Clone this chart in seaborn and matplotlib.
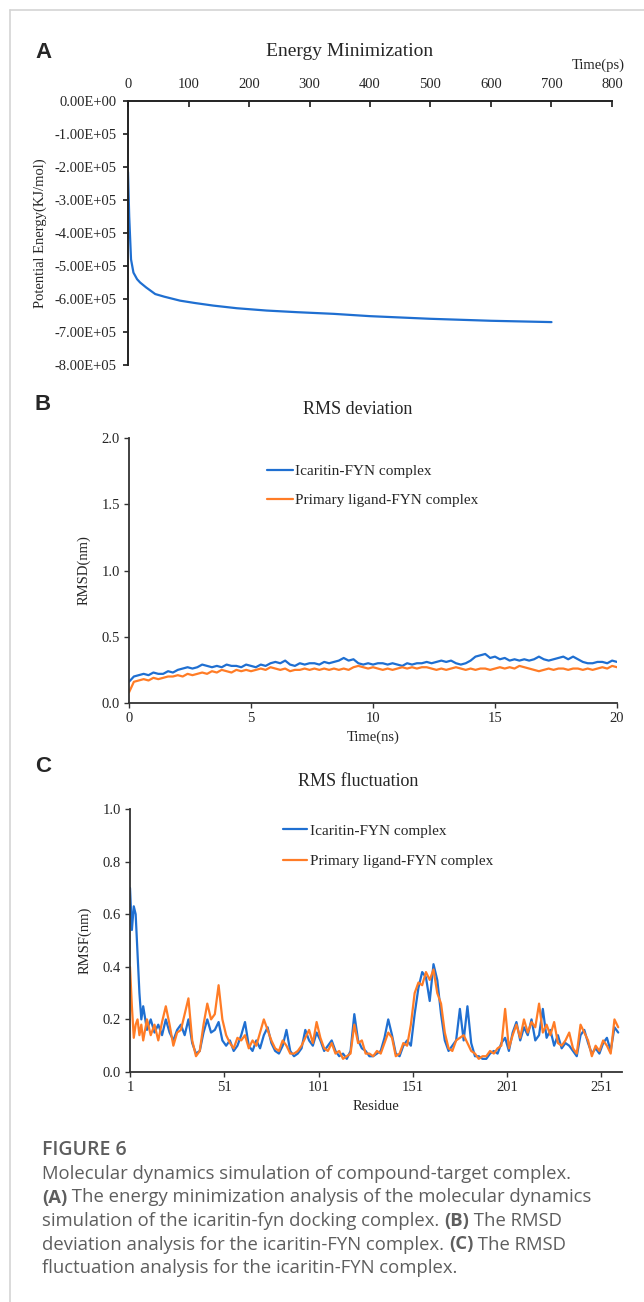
import numpy as np
import pandas as pd
import matplotlib
matplotlib.use("Agg")
import matplotlib.pyplot as plt
from matplotlib.ticker import FuncFormatter
import seaborn as sns

W, H = 644, 1302

# ---- panel A: energy minimization (ps, KJ/mol)
em_time = [0, 2, 5, 9, 15, 20, 30, 45, 60, 86, 110, 141, 180, 229,
           280, 340, 400, 450, 500, 550, 600, 650, 700]
em_energy = [-2.15e5, -3.5e5, -4.8e5, -5.2e5, -5.4e5, -5.5e5, -5.65e5,
             -5.85e5, -5.93e5, -6.05e5, -6.12e5, -6.2e5, -6.28e5, -6.35e5,
             -6.4e5, -6.45e5, -6.52e5, -6.56e5, -6.6e5, -6.63e5, -6.66e5,
             -6.68e5, -6.7e5]

# ---- panel B: RMSD (ns, nm), one value every 0.2 ns
rmsd_time = np.linspace(0, 20, 101)
rmsd_icaritin = [
    0.16, 0.20, 0.21, 0.22, 0.21, 0.23, 0.22, 0.22, 0.24, 0.23,
    0.25, 0.26, 0.27, 0.26, 0.27, 0.29, 0.28, 0.27, 0.28, 0.27,
    0.29, 0.28, 0.28, 0.27, 0.29, 0.28, 0.27, 0.29, 0.28, 0.30,
    0.31, 0.30, 0.32, 0.29, 0.28, 0.30, 0.29, 0.30, 0.30, 0.29,
    0.31, 0.30, 0.31, 0.32, 0.34, 0.32, 0.33, 0.30, 0.29, 0.30,
    0.29, 0.30, 0.30, 0.29, 0.30, 0.29, 0.28, 0.30, 0.29, 0.30,
    0.30, 0.31, 0.30, 0.31, 0.32, 0.31, 0.32, 0.30, 0.29, 0.30,
    0.32, 0.35, 0.36, 0.37, 0.34, 0.35, 0.33, 0.34, 0.32, 0.33,
    0.32, 0.33, 0.32, 0.33, 0.35, 0.33, 0.32, 0.33, 0.34, 0.35,
    0.33, 0.35, 0.33, 0.31, 0.30, 0.30, 0.31, 0.31, 0.30, 0.32,
    0.31]
rmsd_primary = [
    0.08, 0.16, 0.17, 0.18, 0.17, 0.19, 0.18, 0.19, 0.20, 0.20,
    0.21, 0.20, 0.22, 0.21, 0.22, 0.23, 0.22, 0.24, 0.23, 0.25,
    0.24, 0.23, 0.25, 0.24, 0.25, 0.24, 0.25, 0.26, 0.25, 0.27,
    0.26, 0.25, 0.26, 0.24, 0.25, 0.25, 0.26, 0.25, 0.26, 0.25,
    0.26, 0.25, 0.26, 0.25, 0.26, 0.25, 0.27, 0.28, 0.27, 0.26,
    0.27, 0.26, 0.25, 0.26, 0.25, 0.26, 0.27, 0.26, 0.27, 0.26,
    0.27, 0.27, 0.26, 0.25, 0.26, 0.25, 0.26, 0.27, 0.26, 0.25,
    0.26, 0.25, 0.26, 0.26, 0.25, 0.26, 0.27, 0.26, 0.27, 0.26,
    0.28, 0.27, 0.26, 0.25, 0.24, 0.25, 0.26, 0.25, 0.26, 0.26,
    0.25, 0.26, 0.26, 0.25, 0.26, 0.25, 0.26, 0.27, 0.26, 0.28,
    0.27]

# ---- panel C: RMSF per residue (nm)
residues = np.r_[1:9, 10:261:2]
rmsf_icaritin = [
    0.70, 0.54, 0.63, 0.60, 0.45, 0.30, 0.20, 0.25,
    0.16, 0.20, 0.15, 0.18, 0.14, 0.20, 0.15, 0.12, 0.16, 0.18,
    0.14, 0.20, 0.11, 0.07, 0.08, 0.15, 0.20, 0.15, 0.16, 0.19,
    0.12, 0.10, 0.12, 0.08, 0.10, 0.14, 0.19, 0.10, 0.08, 0.12,
    0.09, 0.14, 0.17, 0.11, 0.08, 0.07, 0.10, 0.16, 0.08, 0.06,
    0.07, 0.09, 0.16, 0.12, 0.10, 0.15, 0.12, 0.08, 0.10, 0.12,
    0.08, 0.06, 0.07, 0.05, 0.08, 0.22, 0.12, 0.09, 0.08, 0.06,
    0.06, 0.07, 0.08, 0.13, 0.20, 0.14, 0.07, 0.06, 0.10, 0.12,
    0.10, 0.22, 0.32, 0.38, 0.36, 0.27, 0.41, 0.35, 0.22, 0.12,
    0.08, 0.10, 0.12, 0.24, 0.12, 0.25, 0.11, 0.06, 0.06, 0.05,
    0.05, 0.07, 0.08, 0.07, 0.11, 0.13, 0.08, 0.15, 0.19, 0.12,
    0.17, 0.14, 0.20, 0.12, 0.14, 0.24, 0.13, 0.16, 0.10, 0.14,
    0.09, 0.11, 0.10, 0.08, 0.06, 0.14, 0.16, 0.11, 0.07, 0.09,
    0.07, 0.11, 0.13, 0.08, 0.17, 0.15]
rmsf_primary = [
    0.40, 0.25, 0.13, 0.18, 0.20, 0.14, 0.18, 0.12,
    0.20, 0.14, 0.18, 0.12, 0.19, 0.25, 0.18, 0.10, 0.15, 0.16,
    0.22, 0.28, 0.12, 0.06, 0.08, 0.18, 0.26, 0.20, 0.22, 0.33,
    0.20, 0.14, 0.11, 0.09, 0.13, 0.12, 0.14, 0.09, 0.12, 0.10,
    0.15, 0.20, 0.16, 0.12, 0.09, 0.08, 0.12, 0.10, 0.07, 0.07,
    0.08, 0.10, 0.13, 0.16, 0.11, 0.19, 0.13, 0.09, 0.08, 0.11,
    0.07, 0.08, 0.05, 0.06, 0.07, 0.18, 0.11, 0.12, 0.07, 0.07,
    0.06, 0.08, 0.07, 0.11, 0.15, 0.13, 0.06, 0.07, 0.11, 0.10,
    0.18, 0.30, 0.34, 0.33, 0.38, 0.35, 0.39, 0.30, 0.26, 0.15,
    0.09, 0.08, 0.12, 0.13, 0.14, 0.11, 0.08, 0.07, 0.05, 0.06,
    0.06, 0.08, 0.07, 0.09, 0.10, 0.24, 0.09, 0.14, 0.18, 0.13,
    0.20, 0.15, 0.19, 0.17, 0.26, 0.15, 0.18, 0.14, 0.19, 0.11,
    0.10, 0.12, 0.15, 0.09, 0.07, 0.18, 0.15, 0.12, 0.06, 0.10,
    0.08, 0.12, 0.10, 0.07, 0.20, 0.17]

series_names = ["Icaritin-FYN complex", "Primary ligand-FYN complex"]

BLUE = "#1f6fd1"
ORANGE = "#ff7c26"
SERIF = ["Liberation Serif", "DejaVu Serif"]
SANS = ["Liberation Sans", "DejaVu Sans"]
CAPTION = ["Open Sans", "DejaVu Sans"]
TXT = 10.5


def fx(px):
    return px / W


def fy(py):
    return 1 - py / H


def axes_box(left, top, right, bottom):
    return [fx(left), fy(bottom), (right - left) / W, (bottom - top) / H]


def style_axes(ax):
    for side in ["top", "right"]:
        ax.spines[side].set_visible(False)
    for side in ["left", "bottom"]:
        ax.spines[side].set_color("#333333")
        ax.spines[side].set_linewidth(1.3)
    ax.tick_params(direction="out", length=3.5, width=1.0, color="#333333",
                   labelsize=TXT, pad=3, left=True, bottom=True)


sns.set_theme(style="white")
plt.rcParams["font.family"] = SERIF

fig = plt.figure(figsize=(W / 100, H / 100), dpi=100)

# ---------------- A
ax = fig.add_axes(axes_box(128, 101, 612, 365))
sns.lineplot(x=em_time, y=em_energy, ax=ax, color=BLUE, lw=1.6)
ax.set_xlim(0, 800)
ax.set_ylim(-8e5, 0)
ax.set_xticks(range(0, 801, 100))
ax.set_yticks(np.arange(-8e5, 1, 1e5))
ax.yaxis.set_major_formatter(FuncFormatter(lambda v, p: f"{v:.2E}"))
ax.xaxis.tick_top()
ax.spines["right"].set_visible(False)
ax.spines["bottom"].set_visible(False)
for side in ["left", "top"]:
    ax.spines[side].set_color("#222222")
    ax.spines[side].set_linewidth(1.4)
ax.tick_params(axis="x", direction="in", length=4, color="#222222",
               labelsize=TXT, pad=7, top=True, bottom=False)
ax.tick_params(axis="y", direction="out", length=3.5, color="#222222",
               labelsize=TXT, pad=5, left=True)
ax.set_xlabel("")
ax.set_ylabel("")
fig.text(fx(350), fy(51), "Energy Minimization", ha="center", va="center", size=14)
fig.text(fx(598), fy(65), "Time(ps)", ha="center", va="center", size=TXT)
fig.text(fx(40), fy(233), "Potential Energy(KJ/mol)", rotation=90,
         ha="center", va="center", size=TXT)
fig.text(fx(43), fy(52), "A", family=SANS, weight="bold", size=16,
         ha="center", va="center")

# ---------------- B
df_b = pd.DataFrame({
    "time": np.concatenate([rmsd_time, rmsd_time]),
    "rmsd": rmsd_icaritin + rmsd_primary,
    "series": [series_names[0]] * len(rmsd_time) + [series_names[1]] * len(rmsd_time),
})
ax = fig.add_axes(axes_box(129, 438, 617, 703))
sns.lineplot(data=df_b, x="time", y="rmsd", hue="series",
             palette=[BLUE, ORANGE], ax=ax, lw=1.6)
ax.set_xlim(0, 20)
ax.set_ylim(0, 2.0)
ax.set_xticks(range(0, 21, 5))
ax.set_yticks(np.arange(0, 2.01, 0.5))
ax.yaxis.set_major_formatter(FuncFormatter(lambda v, p: f"{v:.1f}"))
style_axes(ax)
ax.set_xlabel("Time(ns)", size=TXT, labelpad=4)
ax.set_ylabel("RMSD(nm)", size=TXT, labelpad=8)
ax.legend(loc="center left", bbox_to_anchor=(fx(267), fy(486)),
          bbox_transform=fig.transFigure, frameon=False, fontsize=11,
          handlelength=1.7, handletextpad=0.15, labelspacing=1.0,
          borderpad=0, borderaxespad=0)
fig.text(fx(358), fy(410), "RMS deviation", ha="center", va="center", size=13)
fig.text(fx(43), fy(405), "B", family=SANS, weight="bold", size=16,
         ha="center", va="center")

# ---------------- C
df_c = pd.DataFrame({
    "residue": np.concatenate([residues, residues]),
    "rmsf": rmsf_icaritin + rmsf_primary,
    "series": [series_names[0]] * len(residues) + [series_names[1]] * len(residues),
})
ax = fig.add_axes(axes_box(130, 809, 622, 1072))
sns.lineplot(data=df_c, x="residue", y="rmsf", hue="series",
             palette=[BLUE, ORANGE], ax=ax, lw=1.6)
ax.set_xlim(1, 262)
ax.set_ylim(0, 1.0)
ax.set_xticks(range(1, 252, 50))
ax.set_yticks(np.arange(0, 1.01, 0.2))
ax.yaxis.set_major_formatter(FuncFormatter(lambda v, p: f"{v:.1f}"))
style_axes(ax)
ax.set_xlabel("Residue", size=TXT, labelpad=4)
ax.set_ylabel("RMSF(nm)", size=TXT, labelpad=8)
ax.legend(loc="center left", bbox_to_anchor=(fx(283), fy(846)),
          bbox_transform=fig.transFigure, frameon=False, fontsize=11,
          handlelength=1.6, handletextpad=0.15, labelspacing=1.1,
          borderpad=0, borderaxespad=0)
fig.text(fx(358), fy(781), "RMS fluctuation", ha="center", va="center", size=13)
fig.text(fx(43), fy(767), "C", family=SANS, weight="bold", size=16,
         ha="center", va="center")

# ---------------- caption
cap = fig.add_axes([0, 0, 1, 1])
cap.axis("off")
cap.set_xlim(0, W)
cap.set_ylim(H, 0)
GREY = "#5e5e5e"
cap.text(42, 1150, "FIGURE 6", family=CAPTION, weight="semibold", size=14,
         color=GREY, va="center")
lines = [
    [("Molecular dynamics simulation of compound-target complex.", "normal")],
    [("(A)", "bold"), (" The energy minimization analysis of the molecular dynamics", "normal")],
    [("simulation of the icaritin-fyn docking complex. ", "normal"), ("(B)", "bold"), (" The RMSD", "normal")],
    [("deviation analysis for the icaritin-FYN complex. ", "normal"), ("(C)", "bold"), (" The RMSD", "normal")],
    [("fluctuation analysis for the icaritin-FYN complex.", "normal")],
]
for i, parts in enumerate(lines):
    y = 1174 + i * 23.5
    prev = None
    for text, weight in parts:
        if prev is None:
            prev = cap.text(42, y, text, family=CAPTION, weight=weight,
                            size=13.3, color=GREY, va="center")
        else:
            prev = cap.annotate(text, xy=(1, 0), xycoords=prev, va="bottom",
                                ha="left", family=CAPTION, weight=weight,
                                size=13.3, color=GREY)

# light frame lines on top and left
cap.plot([10, W], [10, 10], color="#d4d4d4", lw=1.2)
cap.plot([10, 10], [10, H], color="#d4d4d4", lw=1.2)

fig.savefig("out.png", dpi=100)
